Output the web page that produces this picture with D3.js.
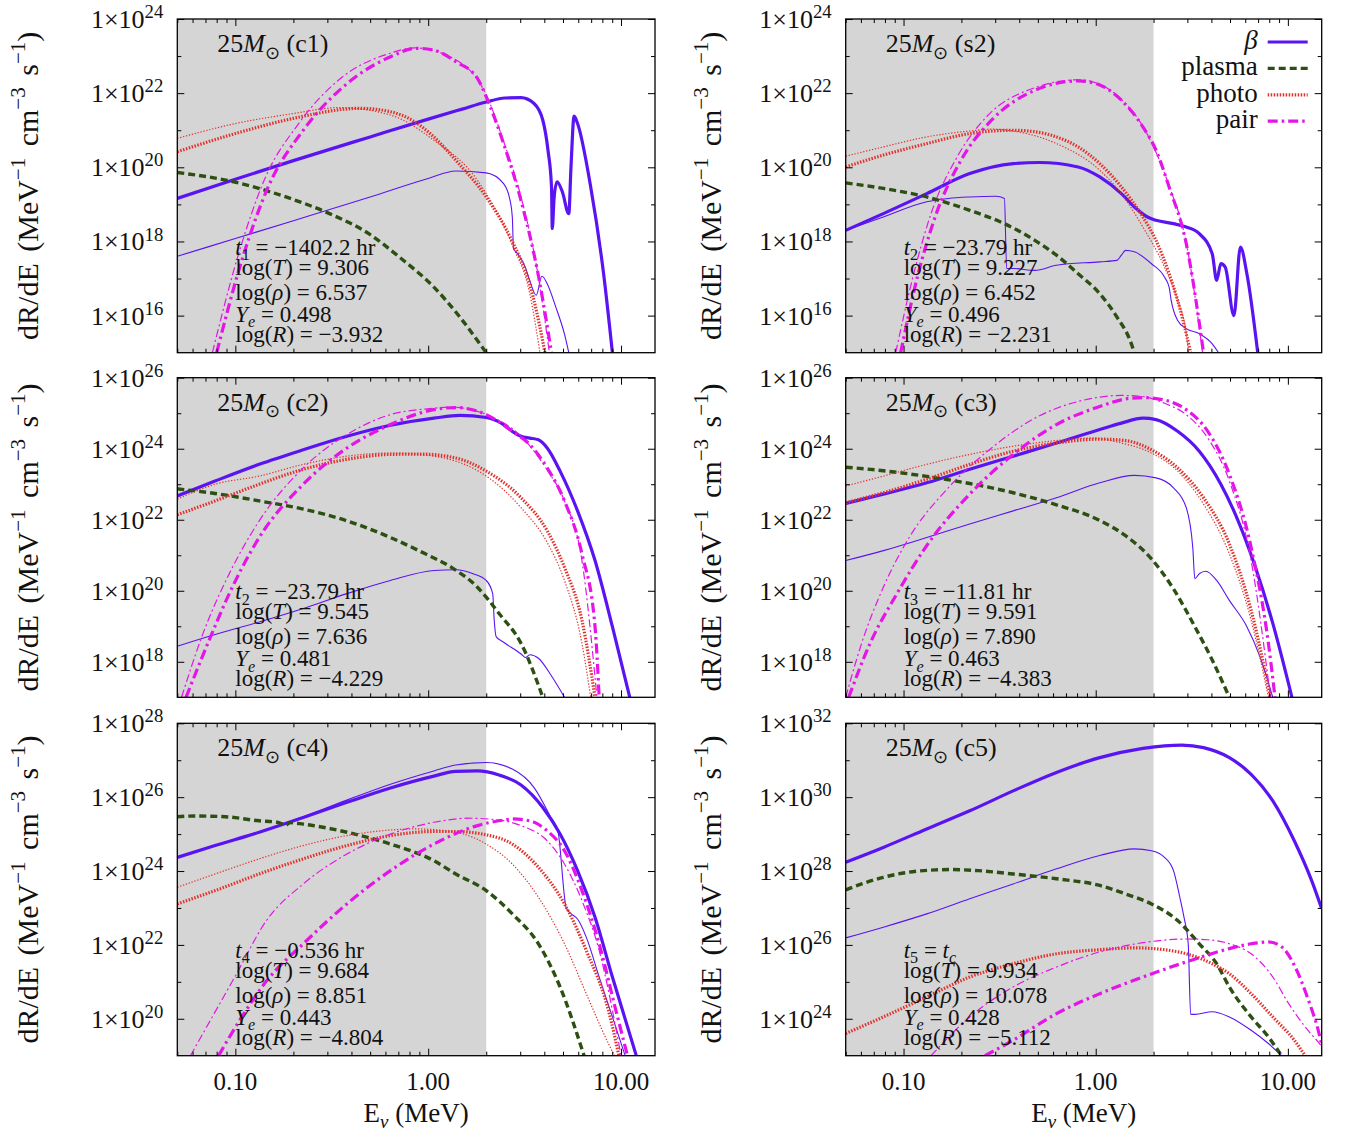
<!DOCTYPE html>
<html>
<head>
<meta charset="utf-8">
<script src="https://cdn.jsdelivr.net/npm/d3@7"></script>
<style>
  body { margin: 0; background: #fff; }
  svg { display: block; }
  text { font-family: "Liberation Serif", "Times New Roman", serif; fill: #111; }
</style>
</head>
<body>
<svg id="chart" width="1346" height="1138"></svg>
<script>
// every series is [E in MeV, log10(dR/dE)]

const xDomain = [0.05, 15]
const shadeEdge = 2
const xMajor = [0.1, 1, 10]
const xMajorLabels = ['0.10', '1.00', '10.00']
const xMinor = [0.05, 0.06, 0.07, 0.08, 0.09, 0.2, 0.3, 0.4, 0.5, 0.6, 0.7, 0.8, 0.9, 2, 3, 4, 5, 6, 7, 8, 9]
const legendNames = ['β', 'plasma', 'photo', 'pair']

// ---- 25 Msun (c1)
const c1BetaThick = [[0.05,19.16],[0.1,19.68],[0.2,20.18],[0.5,20.82],[1.0,21.3],[1.5,21.57],[2.0,21.76],[2.5,21.87],[3.03,21.88],[3.54,21.72],[3.93,21.27],[4.18,20.46],[4.36,19.47],[4.40,18.35],[4.5,19.2],[4.66,19.61],[4.96,19.34],[5.36,18.75],[5.5,20.0],[5.71,21.38],[5.95,21.18],[6.96,19.47],[8.12,17.13],[9.02,15.0]]
const c1BetaThin = [[0.05,17.6],[0.1,18.08],[0.2,18.56],[0.5,19.2],[1.0,19.7],[1.39,19.9],[2.0,19.85],[2.46,19.56],[2.66,19.1],[2.73,18.66],[2.77,17.8],[2.88,17.7],[3.19,17.3],[3.36,16.95],[3.63,16.55],[3.89,17.06],[4.14,16.86],[4.59,16.23],[5.09,15.5],[5.36,15.0]]
const c1Plasma = [[0.05,19.86],[0.098,19.61],[0.183,19.2],[0.308,18.75],[0.492,18.21],[0.708,17.58],[1.07,16.77],[1.46,15.96],[1.8,15.33],[2.0,15.0]]
const c1PhotoThick = [[0.05,20.42],[0.1,20.91],[0.2,21.32],[0.443,21.59],[0.637,21.5],[0.826,21.27],[1.07,20.82],[1.39,20.19],[2.0,19.2],[2.73,18.0],[3.36,16.85],[3.93,15.3],[4.03,15.0]]
const c1PhotoThin = [[0.05,20.78],[0.1,21.18],[0.2,21.45],[0.342,21.61],[0.637,21.41],[1.07,20.73],[1.8,19.65],[2.73,17.9],[3.36,16.6],[3.8,15.0]]
const c1PairThick = [[0.08,15.0],[0.108,17.49],[0.148,19.47],[0.225,21.0],[0.38,22.26],[0.638,22.98],[0.868,23.21],[1.07,23.16],[1.39,22.85],[1.8,22.4],[2.0,21.9],[2.46,20.64],[3.03,19.1],[3.74,17.04],[4.36,15.0]]
const c1PairThin = [[0.076,15.0],[0.104,17.67],[0.141,19.65],[0.213,21.18],[0.36,22.44],[0.63,23.07],[0.85,23.22],[1.39,22.9],[2.0,21.95],[2.46,20.7],[3.03,19.2],[3.74,17.0],[4.25,15.0]]

// ---- 25 Msun (s2)
const s2BetaThick = [[0.05,18.3],[0.0785,18.75],[0.132,19.29],[0.221,19.83],[0.372,20.1],[0.508,20.13],[0.81,20.01],[1.05,19.74],[1.36,19.29],[1.59,18.93],[1.86,18.66],[2.06,18.57],[2.54,18.48],[2.96,18.39],[3.46,18.21],[4.04,17.67],[4.26,16.95],[4.48,17.4],[4.72,17.31],[5.24,16.0],[5.66,17.85],[6.12,17.13],[6.97,15.0]]
const s2BetaThin = [[0.05,18.3],[0.0785,18.66],[0.132,19.07],[0.171,19.16],[0.221,19.2],[0.302,19.22],[0.335,19.16],[0.344,17.27],[0.372,17.27],[0.482,17.22],[0.625,17.36],[1.05,17.45],[1.29,17.49],[1.36,17.63],[1.43,17.76],[1.59,17.72],[1.95,17.4],[2.28,17.04],[2.41,16.77],[2.47,16.41],[2.67,15.87],[2.96,15.65],[3.46,15.51],[4.04,15.24],[4.36,15.0]]
const s2Plasma = [[0.05,19.58],[0.0785,19.43],[0.132,19.2],[0.221,18.84],[0.335,18.48],[0.482,18.03],[0.625,17.63],[0.81,17.13],[1.05,16.59],[1.29,15.96],[1.51,15.33],[1.59,15.0]]
const s2PhotoThick = [[0.05,20.01],[0.0785,20.33],[0.132,20.64],[0.221,20.91],[0.372,21.0],[0.482,20.96],[0.625,20.82],[0.81,20.55],[1.05,20.1],[1.36,19.47],[1.76,18.66],[2.06,18.03],[2.41,17.13],[2.67,16.41],[2.96,15.51],[3.12,15.0]]
const s2PhotoThin = [[0.05,20.3],[0.0785,20.55],[0.132,20.82],[0.221,20.98],[0.287,21.03],[0.372,20.98],[0.625,20.64],[1.05,19.92],[1.36,19.29],[1.76,18.39],[2.28,17.31],[2.67,16.41],[2.96,15.51],[3.04,15.0]]
const s2PairThick = [[0.0966,15.0],[0.118,17.04],[0.146,18.66],[0.199,20.19],[0.287,21.27],[0.484,22.08],[0.81,22.33],[1.05,22.22],[1.36,21.81],[1.76,21.09],[2.06,20.46],[2.41,19.47],[2.96,17.94],[3.64,15.0]]
const s2PairThin = [[0.091,15.0],[0.113,17.13],[0.139,18.75],[0.19,20.28],[0.27,21.36],[0.484,22.15],[0.81,22.36],[1.05,22.24],[1.36,21.83],[1.76,21.1],[2.41,19.5],[2.96,17.96],[3.6,15.0]]

// ---- 25 Msun (c2)
const c2BetaThick = [[0.05,22.67],[0.0785,23.09],[0.133,23.56],[0.225,23.97],[0.379,24.35],[0.637,24.66],[1.07,24.86],[1.46,24.94],[2.0,24.88],[2.46,24.68],[2.73,24.49],[3.03,24.35],[3.36,24.3],[3.73,24.25],[4.14,24.02],[4.83,23.37],[5.95,22.25],[7.33,20.85],[9.02,18.99],[11.1,17.0]]
const c2BetaThin = [[0.05,18.44],[0.0785,18.77],[0.133,19.12],[0.225,19.5],[0.379,19.92],[0.637,20.29],[1.07,20.57],[1.39,20.59],[1.71,20.48],[2.0,20.29],[2.16,19.92],[2.2,19.17],[2.25,18.71],[2.46,18.55],[3.03,18.22],[3.2,18.12],[3.36,18.2],[3.73,18.1],[4.36,17.6],[5.09,17.0]]
const c2Plasma = [[0.05,22.87],[0.0785,22.74],[0.133,22.53],[0.225,22.3],[0.379,21.97],[0.637,21.5],[0.966,21.04],[1.32,20.66],[1.8,20.1],[2.33,19.36],[3.03,18.52],[3.93,17.0]]
const c2PhotoThick = [[0.05,22.14],[0.0785,22.53],[0.133,23.0],[0.225,23.42],[0.379,23.7],[0.637,23.84],[0.916,23.85],[1.39,23.74],[2.0,23.37],[3.03,22.62],[4.14,21.69],[5.09,20.66],[6.27,19.17],[7.33,17.0]]
const c2PhotoThin = [[0.05,22.58],[0.0785,23.0],[0.133,23.23],[0.225,23.56],[0.379,23.79],[0.637,23.88],[0.8,23.86],[1.39,23.65],[2.0,23.23],[3.03,22.34],[4.14,21.36],[5.09,20.29],[6.27,18.52],[6.96,17.0]]
const c2PairThick = [[0.0555,17.0],[0.072,18.52],[0.093,19.92],[0.133,21.5],[0.225,23.0],[0.379,24.02],[0.637,24.68],[1.07,25.1],[1.39,25.16],[2.0,24.96],[2.73,24.49],[3.36,24.12],[4.14,23.46],[5.09,22.53],[6.27,21.04],[7.33,18.99],[7.7,17.0]]
const c2PairThin = [[0.0526,17.0],[0.068,18.8],[0.093,20.48],[0.133,21.97],[0.225,23.46],[0.379,24.4],[0.637,24.96],[1.07,25.14],[1.32,25.17],[2.0,24.96],[3.03,24.35],[4.14,23.4],[5.09,22.53],[6.27,20.85],[7.5,17.0]]

// ---- 25 Msun (c3)
const c3BetaThick = [[0.05,22.46],[0.0785,22.72],[0.132,23.04],[0.221,23.42],[0.372,23.79],[0.625,24.16],[1.05,24.54],[1.36,24.72],[1.76,24.86],[2.06,24.82],[2.67,24.49],[3.46,23.93],[4.48,23.0],[5.51,21.97],[6.78,20.66],[8.35,19.08],[10.5,17.0]]
const c3BetaThin = [[0.05,20.85],[0.0785,21.13],[0.132,21.5],[0.221,21.88],[0.372,22.25],[0.625,22.62],[1.05,23.04],[1.59,23.25],[2.06,23.18],[2.54,22.9],[2.96,22.34],[3.2,21.22],[3.28,20.34],[3.46,20.48],[3.74,20.55],[4.26,20.29],[4.96,19.73],[6.12,18.99],[7.15,18.15],[8.35,17.0]]
const c3Plasma = [[0.05,23.48],[0.0785,23.38],[0.132,23.22],[0.221,23.02],[0.372,22.76],[0.625,22.42],[1.05,21.98],[1.43,21.55],[1.95,20.9],[2.54,20.05],[3.28,18.99],[4.04,18.05],[4.96,17.0]]
const c3PhotoThick = [[0.05,22.48],[0.0785,22.76],[0.132,23.14],[0.221,23.56],[0.372,23.93],[0.625,24.16],[1.05,24.27],[1.43,24.23],[1.95,23.97],[2.67,23.46],[3.64,22.62],[4.96,21.32],[6.44,19.45],[8.12,17.0]]
const c3PhotoThin = [[0.05,22.95],[0.0785,23.23],[0.132,23.56],[0.221,23.84],[0.372,24.07],[0.625,24.23],[0.946,24.3],[1.36,24.16],[1.95,23.88],[2.67,23.37],[3.64,22.44],[4.96,21.04],[6.44,19.17],[7.92,17.0]]
const c3PairThick = [[0.0518,17.0],[0.067,18.52],[0.0924,19.92],[0.132,21.27],[0.221,22.72],[0.372,23.84],[0.625,24.68],[1.05,25.19],[1.5,25.42],[1.76,25.44],[2.28,25.37],[2.96,25.1],[3.83,24.49],[4.96,23.28],[6.44,21.22],[7.92,18.52],[8.57,17.0]]
const c3PairThin = [[0.05,17.0],[0.0605,18.52],[0.0785,20.1],[0.107,21.5],[0.171,22.9],[0.287,24.02],[0.482,24.86],[0.81,25.33],[1.36,25.5],[1.76,25.47],[2.28,25.28],[2.96,24.96],[3.83,24.3],[4.96,23.09],[6.44,20.85],[8.12,17.0]]

// ---- 25 Msun (c4)
const c4BetaThick = [[0.05,24.37],[0.0785,24.69],[0.133,25.05],[0.225,25.45],[0.379,25.86],[0.637,26.25],[1.07,26.57],[1.39,26.7],[1.8,26.71],[2.33,26.6],[3.03,26.33],[3.93,25.72],[4.83,25.0],[5.95,24.01],[7.33,22.75],[9.02,21.13],[12.0,19.0]]
const c4BetaThin = [[0.05,24.37],[0.225,25.47],[0.379,25.92],[0.637,26.35],[1.07,26.71],[1.39,26.87],[2.0,26.94],[2.73,26.76],[3.54,26.26],[4.36,25.42],[4.7,25.1],[5.2,23.0],[5.5,22.85],[5.95,22.7],[6.6,22.21],[7.7,21.13],[9.02,20.05],[10.5,19.0]]
const c4Plasma = [[0.05,25.47],[0.0615,25.49],[0.0885,25.47],[0.133,25.36],[0.165,25.32],[0.183,25.25],[0.193,25.31],[0.225,25.27],[0.379,25.05],[0.637,24.73],[1.07,24.28],[1.39,23.92],[2.0,23.47],[2.73,22.84],[3.73,22.03],[4.83,20.86],[6.43,19.0]]
const c4PhotoThick = [[0.05,23.11],[0.0785,23.47],[0.133,23.92],[0.225,24.33],[0.379,24.69],[0.637,24.96],[1.07,25.07],[1.39,25.07],[2.0,24.98],[2.73,24.73],[3.73,24.1],[5.09,23.11],[6.6,21.85],[8.6,20.23],[9.75,19.0]]
const c4PhotoThin = [[0.05,23.56],[0.0785,23.92],[0.133,24.33],[0.225,24.69],[0.379,24.96],[0.637,25.11],[0.871,25.14],[1.39,25.05],[2.0,24.73],[2.73,24.19],[3.73,23.29],[5.09,22.03],[6.6,20.68],[8.6,19.33],[9.25,19.0]]
const c4PairThick = [[0.0818,19.0],[0.108,20.05],[0.146,21.04],[0.225,22.03],[0.379,23.11],[0.637,24.01],[1.07,24.73],[1.8,25.23],[2.46,25.38],[2.73,25.41],[3.36,25.36],[4.14,25.09],[5.09,24.55],[6.27,23.47],[7.7,22.03],[9.4,20.23],[10.8,19.0]]
const c4PairThin = [[0.0585,19.0],[0.1,21.16],[0.145,22.66],[0.225,23.65],[0.379,24.46],[0.637,25.0],[1.07,25.32],[1.61,25.43],[2.33,25.38],[3.03,25.23],[4.14,24.82],[5.09,24.19],[6.27,23.2],[7.7,21.85],[10.0,19.0]]

// ---- 25 Msun (c5)
const c5BetaThick = [[0.05,28.24],[0.0785,28.64],[0.132,29.14],[0.221,29.63],[0.372,30.17],[0.625,30.67],[1.05,31.07],[1.76,31.32],[2.28,31.39],[2.81,31.41],[3.64,31.34],[4.96,31.07],[6.44,30.62],[8.35,29.9],[10.8,28.82],[13.3,27.74],[15,26.98]]
const c5BetaThin = [[0.05,26.19],[0.0785,26.48],[0.132,26.84],[0.221,27.25],[0.372,27.65],[0.625,28.06],[1.05,28.42],[1.59,28.6],[1.95,28.55],[2.28,28.37],[2.54,28.01],[2.74,27.29],[2.88,26.75],[3.03,26.03],[3.12,24.12],[3.29,24.12],[4.04,24.19],[4.96,24.05],[6.44,23.69],[7.92,23.33],[9.27,23.0]]
const c5Plasma = [[0.05,27.49],[0.0605,27.65],[0.0785,27.83],[0.107,27.97],[0.146,28.03],[0.18,28.04],[0.245,28.01],[0.372,27.92],[0.625,27.79],[1.05,27.61],[1.43,27.38],[1.95,27.11],[2.67,26.66],[3.46,26.03],[4.26,25.49],[4.96,24.86],[6.44,24.05],[7.92,23.51],[9.27,23.0]]
const c5PhotoThick = [[0.05,23.6],[0.0785,24.05],[0.132,24.59],[0.221,25.13],[0.372,25.49],[0.625,25.76],[1.05,25.87],[1.59,25.92],[2.28,25.87],[2.96,25.76],[4.04,25.49],[4.96,25.22],[6.44,24.68],[8.35,24.05],[10.8,23.42],[12.3,23.0]]
const c5PairThick = [[0.265,23.0],[0.372,23.42],[0.625,24.14],[1.05,24.68],[1.76,25.13],[2.96,25.54],[4.96,25.9],[6.44,26.03],[7.92,26.08],[9.27,25.95],[10.8,25.45],[12.7,24.55],[14.6,23.56],[15,23.3]]
const c5PairThin = [[0.139,23.0],[0.221,24.05],[0.372,24.86],[0.625,25.4],[1.05,25.81],[1.76,26.06],[2.96,26.16],[3.83,26.14],[4.96,26.03],[6.44,25.76],[8.35,25.13],[10.1,24.41],[12.7,23.69],[14.6,23.33],[15,23.25]]

// panel text
const c1Info = [[['t','i'],['1','sub'],[' = −1402.2 hr']], [['log('],['T','i'],[') = 9.306']], [['log('],['ρ','i'],[') = 6.537']], [['Y','i'],['e','isub'],[' = 0.498']], [['log('],['R','i'],[') = −3.932']]]
const s2Info = [[['t','i'],['2','sub'],[' = −23.79 hr']], [['log('],['T','i'],[') = 9.227']], [['log('],['ρ','i'],[') = 6.452']], [['Y','i'],['e','isub'],[' = 0.496']], [['log('],['R','i'],[') = −2.231']]]
const c2Info = [[['t','i'],['2','sub'],[' = −23.79 hr']], [['log('],['T','i'],[') = 9.545']], [['log('],['ρ','i'],[') = 7.636']], [['Y','i'],['e','isub'],[' = 0.481']], [['log('],['R','i'],[') = −4.229']]]
const c3Info = [[['t','i'],['3','sub'],[' = −11.81 hr']], [['log('],['T','i'],[') = 9.591']], [['log('],['ρ','i'],[') = 7.890']], [['Y','i'],['e','isub'],[' = 0.463']], [['log('],['R','i'],[') = −4.383']]]
const c4Info = [[['t','i'],['4','sub'],[' = −0.536 hr']], [['log('],['T','i'],[') = 9.684']], [['log('],['ρ','i'],[') = 8.851']], [['Y','i'],['e','isub'],[' = 0.443']], [['log('],['R','i'],[') = −4.804']]]
const c5Info = [[['t','i'],['5','sub'],[' = '],['t','i'],['c','isub'],['']], [['log('],['T','i'],[') = 9.934']], [['log('],['ρ','i'],[') = 10.078']], [['Y','i'],['e','isub'],[' = 0.428']], [['log('],['R','i'],[') = −5.112']]]

const BLUE = '#5a14f2', GREEN = '#2c4f12', RED = '#e2312b', MAGENTA = '#e514e8'
const styles = {
  betaThick:  {stroke: BLUE, w: 3.2, dash: null},
  betaThin:   {stroke: BLUE, w: 1.1, dash: null},
  plasma:     {stroke: GREEN, w: 3.4, dash: '7,4'},
  photoThick: {stroke: RED, w: 3.2, dash: '1.5,1.5'},
  photoThin:  {stroke: RED, w: 1.2, dash: '1.3,1.7'},
  pairThick:  {stroke: MAGENTA, w: 3.2, dash: '10,4,2.5,4'},
  pairThin:   {stroke: MAGENTA, w: 1.2, dash: '8,3,2,3'}
}

const colX = [[177.3, 655], [845.7, 1321.7]]
const rowY = [[19, 352.7], [377.7, 697.3], [723.3, 1055.7]]

const panels = [
  {name: 'c1', col: 0, row: 0, top: 24, info: c1Info, series: {betaThick: c1BetaThick, betaThin: c1BetaThin, plasma: c1Plasma, photoThick: c1PhotoThick, photoThin: c1PhotoThin, pairThick: c1PairThick, pairThin: c1PairThin}},
  {name: 's2', col: 1, row: 0, top: 24, info: s2Info, legend: true, series: {betaThick: s2BetaThick, betaThin: s2BetaThin, plasma: s2Plasma, photoThick: s2PhotoThick, photoThin: s2PhotoThin, pairThick: s2PairThick, pairThin: s2PairThin}},
  {name: 'c2', col: 0, row: 1, top: 26, info: c2Info, series: {betaThick: c2BetaThick, betaThin: c2BetaThin, plasma: c2Plasma, photoThick: c2PhotoThick, photoThin: c2PhotoThin, pairThick: c2PairThick, pairThin: c2PairThin}},
  {name: 'c3', col: 1, row: 1, top: 26, info: c3Info, series: {betaThick: c3BetaThick, betaThin: c3BetaThin, plasma: c3Plasma, photoThick: c3PhotoThick, photoThin: c3PhotoThin, pairThick: c3PairThick, pairThin: c3PairThin}},
  {name: 'c4', col: 0, row: 2, top: 28, info: c4Info, series: {betaThick: c4BetaThick, betaThin: c4BetaThin, plasma: c4Plasma, photoThick: c4PhotoThick, photoThin: c4PhotoThin, pairThick: c4PairThick, pairThin: c4PairThin}},
  {name: 'c5', col: 1, row: 2, top: 32, info: c5Info, series: {betaThick: c5BetaThick, betaThin: c5BetaThin, plasma: c5Plasma, photoThick: c5PhotoThick, pairThick: c5PairThick, pairThin: c5PairThin}}
]

const svg = d3.select('#chart')

// writes segments like [text, 'i'|'sub'|'isub'|'sup'] into a text element
function rich(sel, segs, size, supScale, supRise) {
  let shift = 0
  segs.forEach(([t, st]) => {
    st = st || ''
    const ts = sel.append('tspan').text(t)
    const small = st.includes('sub') || st === 'sup'
    const target = st.includes('sub') ? size * 0.25 : (st === 'sup' ? -size * (supRise || 0.45) : 0)
    ts.attr('dy', target - shift)
    shift = target
    if (small) ts.attr('font-size', size * (supScale || 0.7))
    if (st === 'i' || st === 'isub') ts.attr('font-style', 'italic')
  })
}

function drawPanel(p) {
  const [x0, x1] = colX[p.col], [y0, y1] = rowY[p.row]
  const x = d3.scaleLog().domain(xDomain).range([x0, x1])
  const y = d3.scaleLog().domain([10 ** (p.top - 9), 10 ** p.top]).range([y1, y0])
  const g = svg.append('g')

  g.append('rect').attr('x', x0).attr('y', y0)
    .attr('width', x(shadeEdge) - x0).attr('height', y1 - y0).attr('fill', '#d5d5d5')

  const clipId = 'clip-' + p.name
  svg.append('clipPath').attr('id', clipId)
    .append('rect').attr('x', x0).attr('y', y0).attr('width', x1 - x0).attr('height', y1 - y0)

  const line = d3.line().curve(d3.curveMonotoneX)
    .x(d => x(d[0])).y(d => y(10 ** d[1]))

  const curves = g.append('g').attr('clip-path', `url(#${clipId})`)
  Object.entries(p.series).forEach(([key, data]) => {
    const s = styles[key]
    curves.append('path').attr('d', line(data))
      .attr('fill', 'none').attr('stroke', s.stroke).attr('stroke-width', s.w)
      .attr('stroke-dasharray', s.dash).attr('stroke-linejoin', 'round')
  })

  // ticks, mirrored on all four sides
  const clean = a => a.call(s => s.select('.domain').remove())
  const yMajor = d3.range(p.top - 8, p.top + 1, 2).map(e => 10 ** e)
  const yMinor = d3.range(p.top - 7, p.top, 2).map(e => 10 ** e)
  const ax = [
    [d3.axisBottom, `translate(0,${y1})`, x], [d3.axisTop, `translate(0,${y0})`, x],
    [d3.axisLeft, `translate(${x0},0)`, y], [d3.axisRight, `translate(${x1},0)`, y]
  ]
  ax.forEach(([fn, tr, sc]) => {
    const isX = sc === x
    g.append('g').attr('transform', tr)
      .call(fn(sc).tickValues(isX ? xMajor : yMajor).tickSizeInner(-7).tickSizeOuter(0).tickFormat(''))
      .call(clean)
    g.append('g').attr('transform', tr)
      .call(fn(sc).tickValues(isX ? xMinor : yMinor).tickSizeInner(-4).tickSizeOuter(0).tickFormat(''))
      .call(clean)
  })
  g.selectAll('.tick line').attr('stroke', '#000').attr('stroke-width', 1)

  g.append('rect').attr('x', x0).attr('y', y0).attr('width', x1 - x0).attr('height', y1 - y0)
    .attr('fill', 'none').attr('stroke', '#000').attr('stroke-width', 1.3)

  // y tick labels 1x10^n
  d3.range(p.top - 8, p.top + 1, 2).forEach(e => {
    const t = g.append('text').attr('x', x0 - 14).attr('y', y(10 ** e) + 9)
      .attr('text-anchor', 'end').attr('font-size', 26)
    rich(t, [['1×10'], [String(e), 'sup']], 26, 0.72, 0.38)
  })

  // x tick labels on the bottom row only
  if (p.row === 2) {
    xMajor.forEach((v, i) => {
      g.append('text').attr('x', x(v)).attr('y', y1 + 34).attr('text-anchor', 'middle')
        .attr('font-size', 25).text(xMajorLabels[i])
    })
    const xt = g.append('text').attr('x', (x0 + x1) / 2).attr('y', y1 + 66)
      .attr('text-anchor', 'middle').attr('font-size', 27)
    rich(xt, [['E'], ['ν', 'isub'], [' (MeV)']], 27)
  }

  // y title
  const yt = g.append('text')
    .attr('transform', `translate(${p.col === 0 ? 38 : 721},${(y0 + y1) / 2}) rotate(-90)`)
    .attr('text-anchor', 'middle').attr('font-size', 30).attr('word-spacing', 4)
  rich(yt, [['dR/dE (MeV'], ['−1', 'sup'], [' cm'], ['−3', 'sup'], [' s'], ['−1', 'sup'], [')']], 30)

  // panel label
  const lab = g.append('text').attr('x', x0 + 40).attr('y', y0 + 33).attr('font-size', 26)
  rich(lab, [['25'], ['M', 'i'], ['⊙', 'sub'], [` (${p.name})`]], 26)

  // info block
  const offs = [-98, -78, -53, -31, -11]
  p.info.forEach((segs, i) => {
    const t = g.append('text').attr('x', x0 + 58).attr('y', y1 + offs[i]).attr('font-size', 23)
    rich(t, segs, 23)
  })

  if (p.legend) {
    const keys = ['betaThick', 'plasma', 'photoThick', 'pairThick']
    keys.forEach((k, i) => {
      const ly = y0 + 23 + i * 26.4
      const s = styles[k]
      g.append('line').attr('x1', x1 - 54).attr('x2', x1 - 14).attr('y1', ly).attr('y2', ly)
        .attr('stroke', s.stroke).attr('stroke-width', s.w).attr('stroke-dasharray', s.dash)
      g.append('text').attr('x', x1 - 64).attr('y', ly + 7).attr('text-anchor', 'end')
        .attr('font-size', 27).attr('font-style', i === 0 ? 'italic' : null).text(legendNames[i])
    })
  }
}

panels.forEach(drawPanel)
</script>
</body>
</html>
